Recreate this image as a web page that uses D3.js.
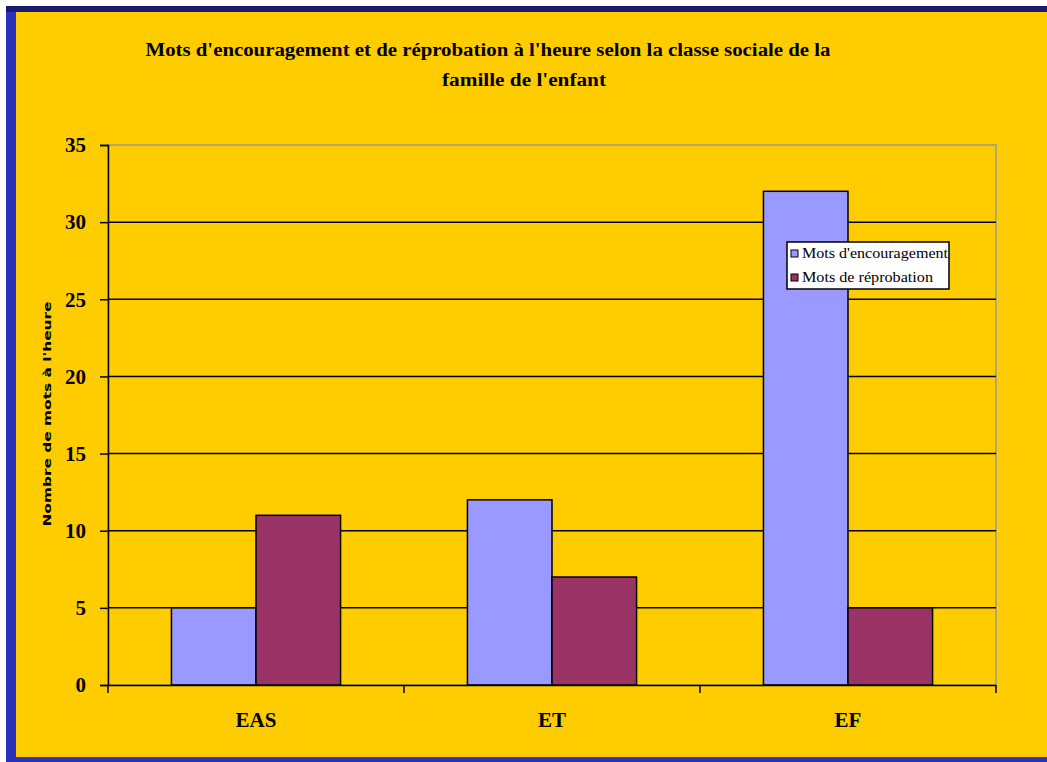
<!DOCTYPE html>
<head>
	<meta charset="utf-8">
	<title>Mots d'encouragement et de réprobation</title>
	<script src="https://cdn.jsdelivr.net/npm/d3@7"></script>
	<style>
		body { margin: 0; background: white; }
		.serif { font-family: 'Liberation Serif', 'DejaVu Serif', serif; }
		.grid line { stroke: black; stroke-width: 1.5px; }
	</style>
</head>
<body>
	<script>
		var categories = ["EAS", "ET", "EF"];
		var seriesNames = ["Mots d'encouragement", "Mots de réprobation"];
		var encouragement = [5, 12, 32];
		var reprobation = [11, 7, 5];
		var yTicks = [0, 5, 10, 15, 20, 25, 30, 35];
		var titleLines = ["Mots d'encouragement et de réprobation à l'heure selon la classe sociale de la", "famille de l'enfant"];
		var yLabel = "Nombre de mots à l'heure";

		var width = 1047, height = 762;
		var colors = ["#9999ff", "#993366"];

		var svg = d3.select("body").append("svg")
			.attr("width", width)
			.attr("height", height);

		// slide background + border
		svg.append("rect").attr("x", 6).attr("y", 6).attr("width", width - 6).attr("height", height - 6).attr("fill", "#2f2fbf");
		svg.append("rect").attr("x", 6).attr("y", 6).attr("width", width - 6).attr("height", 6).attr("fill", "#1a1a6e");
		svg.append("rect").attr("x", 16).attr("y", 12).attr("width", width - 16).attr("height", 745).attr("fill", "#ffcc00");

		var margin = {left: 108, right: 996, top: 145, bottom: 685};

		var x0 = d3.scaleBand().domain(categories).range([margin.left, margin.right]);
		var x1 = d3.scaleBand().domain(seriesNames).range([0, x0.bandwidth() * 2 / 3.5]);
		var y = d3.scaleLinear().domain([0, 35]).range([margin.bottom, margin.top]);

		// plot area border (grey)
		svg.append("rect")
			.attr("x", margin.left).attr("y", margin.top)
			.attr("width", margin.right - margin.left).attr("height", margin.bottom - margin.top)
			.attr("fill", "none").attr("stroke", "#999").attr("stroke-width", 1.5);

		// gridlines
		svg.append("g").attr("class", "grid")
			.selectAll("line").data(yTicks.filter(function(d) { return d > 0 && d < 35; }))
			.enter().append("line")
				.attr("x1", margin.left).attr("x2", margin.right)
				.attr("y1", function(d) { return y(d); }).attr("y2", function(d) { return y(d); });

		// bars
		var data = categories.map(function(c, i) {
			return {cat: c, vals: [encouragement[i], reprobation[i]]};
		});
		var groupOffset = (x0.bandwidth() - x1.range()[1]) / 2;
		svg.append("g").selectAll("g").data(data).enter().append("g")
			.attr("transform", function(d) { return "translate(" + (x0(d.cat) + groupOffset) + ",0)"; })
			.selectAll("rect").data(function(d) { return d.vals; })
			.enter().append("rect")
				.attr("x", function(d, i) { return x1(seriesNames[i]); })
				.attr("y", function(d) { return y(d); })
				.attr("width", x1.bandwidth())
				.attr("height", function(d) { return y(0) - y(d); })
				.attr("fill", function(d, i) { return colors[i]; })
				.attr("stroke", "black").attr("stroke-width", 1.5);

		// y axis
		var yAxis = svg.append("g")
			.attr("transform", "translate(" + margin.left + ",0)")
			.call(d3.axisLeft(y).tickValues(yTicks).tickSize(8).tickPadding(14));
		yAxis.select(".domain").attr("stroke", "black").attr("stroke-width", 1.5);
		yAxis.selectAll(".tick line").attr("stroke", "black").attr("stroke-width", 1.5);
		yAxis.selectAll("text").attr("class", "serif").attr("font-size", 21).attr("font-weight", "bold").attr("fill", "black");

		// x axis
		var xAxis = svg.append("g")
			.attr("transform", "translate(0," + margin.bottom + ")")
			.call(d3.axisBottom(x0).tickSize(0).tickPadding(27));
		xAxis.select(".domain").attr("stroke", "black").attr("stroke-width", 1.5);
		xAxis.selectAll("text").attr("class", "serif").attr("font-size", 21).attr("font-weight", "bold").attr("fill", "black");
		svg.append("g").selectAll("line").data(categories.concat(["end"]))
			.enter().append("line")
				.attr("x1", function(d) { return d === "end" ? margin.right : x0(d); })
				.attr("x2", function(d) { return d === "end" ? margin.right : x0(d); })
				.attr("y1", margin.bottom).attr("y2", margin.bottom + 8)
				.attr("stroke", "black").attr("stroke-width", 1.5);

		// title
		svg.append("text").attr("class", "serif")
			.attr("x", 488).attr("y", 56).attr("text-anchor", "middle")
			.attr("font-size", 18).attr("font-weight", "bold")
			.attr("textLength", 685).attr("lengthAdjust", "spacingAndGlyphs")
			.text(titleLines[0]);
		svg.append("text").attr("class", "serif")
			.attr("x", 524).attr("y", 86).attr("text-anchor", "middle")
			.attr("font-size", 18).attr("font-weight", "bold")
			.attr("textLength", 164).attr("lengthAdjust", "spacingAndGlyphs")
			.text(titleLines[1]);

		// y label
		svg.append("text")
			.attr("transform", "translate(51,414) rotate(-90)")
			.attr("text-anchor", "middle")
			.attr("font-family", "'DejaVu Sans', sans-serif")
			.attr("font-size", 11).attr("font-weight", "bold")
			.attr("textLength", 225).attr("lengthAdjust", "spacingAndGlyphs")
			.text(yLabel);

		// legend
		var legend = svg.append("g").attr("transform", "translate(787,242)");
		legend.append("rect").attr("width", 162).attr("height", 47)
			.attr("fill", "white").attr("stroke", "black").attr("stroke-width", 1.5);
		var items = legend.selectAll("g.item").data(seriesNames).enter().append("g")
			.attr("transform", function(d, i) { return "translate(4," + (8 + i * 24) + ")"; });
		items.append("rect").attr("width", 7).attr("height", 7)
			.attr("fill", function(d, i) { return colors[i]; })
			.attr("stroke", "black").attr("stroke-width", 1);
		items.append("text").attr("class", "serif")
			.attr("x", 11).attr("y", 8)
			.attr("font-size", 14.5).attr("fill", "black")
			.attr("textLength", function(d, i) { return i === 0 ? 146 : 131; })
			.attr("lengthAdjust", "spacingAndGlyphs")
			.text(function(d) { return d; });
	</script>
</body>
